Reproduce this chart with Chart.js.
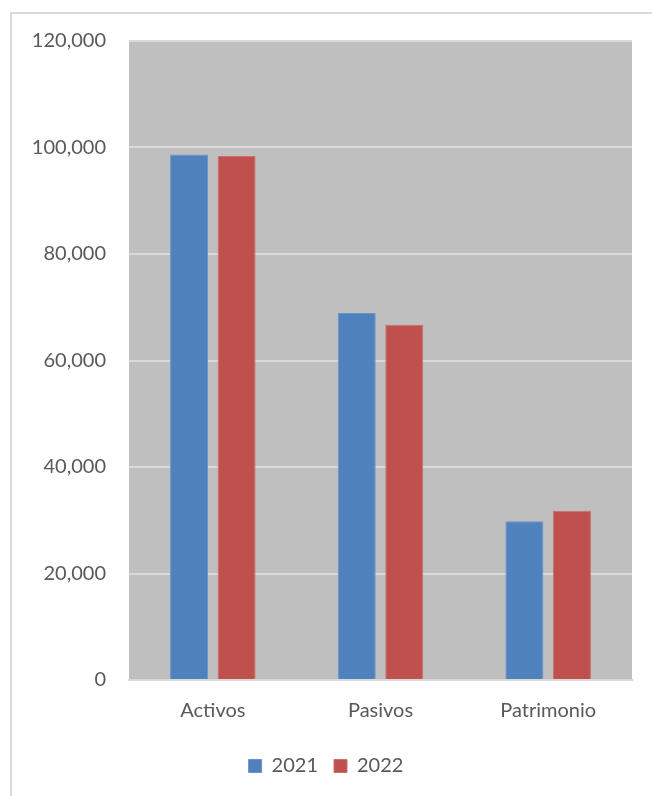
<!DOCTYPE html>
<html>
<head>
<meta charset="utf-8">
<script src="https://cdn.jsdelivr.net/npm/chart.js@4"></script>
<style>
  html, body { margin: 0; padding: 0; background: #fff; overflow: hidden; }
  #frame {
    position: absolute; left: 10px; top: 12px; width: 660px; height: 800px;
    border-left: 2px solid #D9D9D9; border-top: 2px solid #D9D9D9;
  }
  #balanceChart { position: absolute; left: 0; top: 0; }
</style>
</head>
<body>
<div id="frame"></div>
<canvas id="balanceChart" width="652" height="796"></canvas>
<script>
const categories = ['Activos', 'Pasivos', 'Patrimonio'];
const years = ['2021', '2022'];
const values2021 = [98700, 68900, 29800];
const values2022 = [98400, 66700, 31800];
const yTicks = [0, 20000, 40000, 60000, 80000, 100000, 120000];

const textColor = '#595959';
const fontFamily = 'Lato, "Open Sans", sans-serif';

// gray plot background like the spreadsheet chart
const plotBackground = {
    id: 'plotBackground',
    beforeDraw(chart) {
        const { ctx, chartArea } = chart;
        ctx.save();
        ctx.fillStyle = '#BFBFBF';
        ctx.fillRect(chartArea.left, chartArea.top, chartArea.right - chartArea.left, chartArea.bottom - chartArea.top);
        ctx.restore();
    }
};

const ctx = document.getElementById('balanceChart').getContext('2d');
new Chart(ctx, {
    type: 'bar',
    data: {
        labels: categories,
        datasets: [{
            label: years[0],
            data: values2021,
            backgroundColor: '#4F81BD',
            borderColor: '#6C93C8',
            borderWidth: 1
        }, {
            label: years[1],
            data: values2022,
            backgroundColor: '#C0504D',
            borderColor: '#CB706D',
            borderWidth: 1
        }]
    },
    options: {
        responsive: false,
        animation: false,
        devicePixelRatio: 1,
        layout: { padding: { left: 20, right: 20, top: 41, bottom: 10 } },
        datasets: {
            bar: { categoryPercentage: 0.567, barPercentage: 0.8 }
        },
        scales: {
            x: {
                grid: { display: false, drawTicks: false },
                border: { display: true, color: '#D9D9D9', width: 2 },
                ticks: { color: textColor, font: { family: fontFamily, size: 20 }, padding: 19 },
                afterFit(scale) { scale.height = 60; }
            },
            y: {
                min: 0,
                max: 120000,
                afterBuildTicks(scale) { scale.ticks = yTicks.map(v => ({ value: v })); },
                grid: { color: '#D9D9D9', lineWidth: 2, drawTicks: false },
                border: { display: false },
                ticks: {
                    color: textColor,
                    font: { family: fontFamily, size: 20 },
                    padding: 23,
                    callback: v => v.toLocaleString('en-US')
                },
                afterFit(scale) { scale.width = 109; }
            }
        },
        plugins: {
            legend: {
                position: 'bottom',
                labels: {
                    color: textColor,
                    font: { family: fontFamily, size: 20 },
                    boxWidth: 13,
                    boxHeight: 13,
                    padding: 16
                }
            },
            tooltip: { enabled: false }
        }
    },
    plugins: [plotBackground]
});
</script>
</body>
</html>
